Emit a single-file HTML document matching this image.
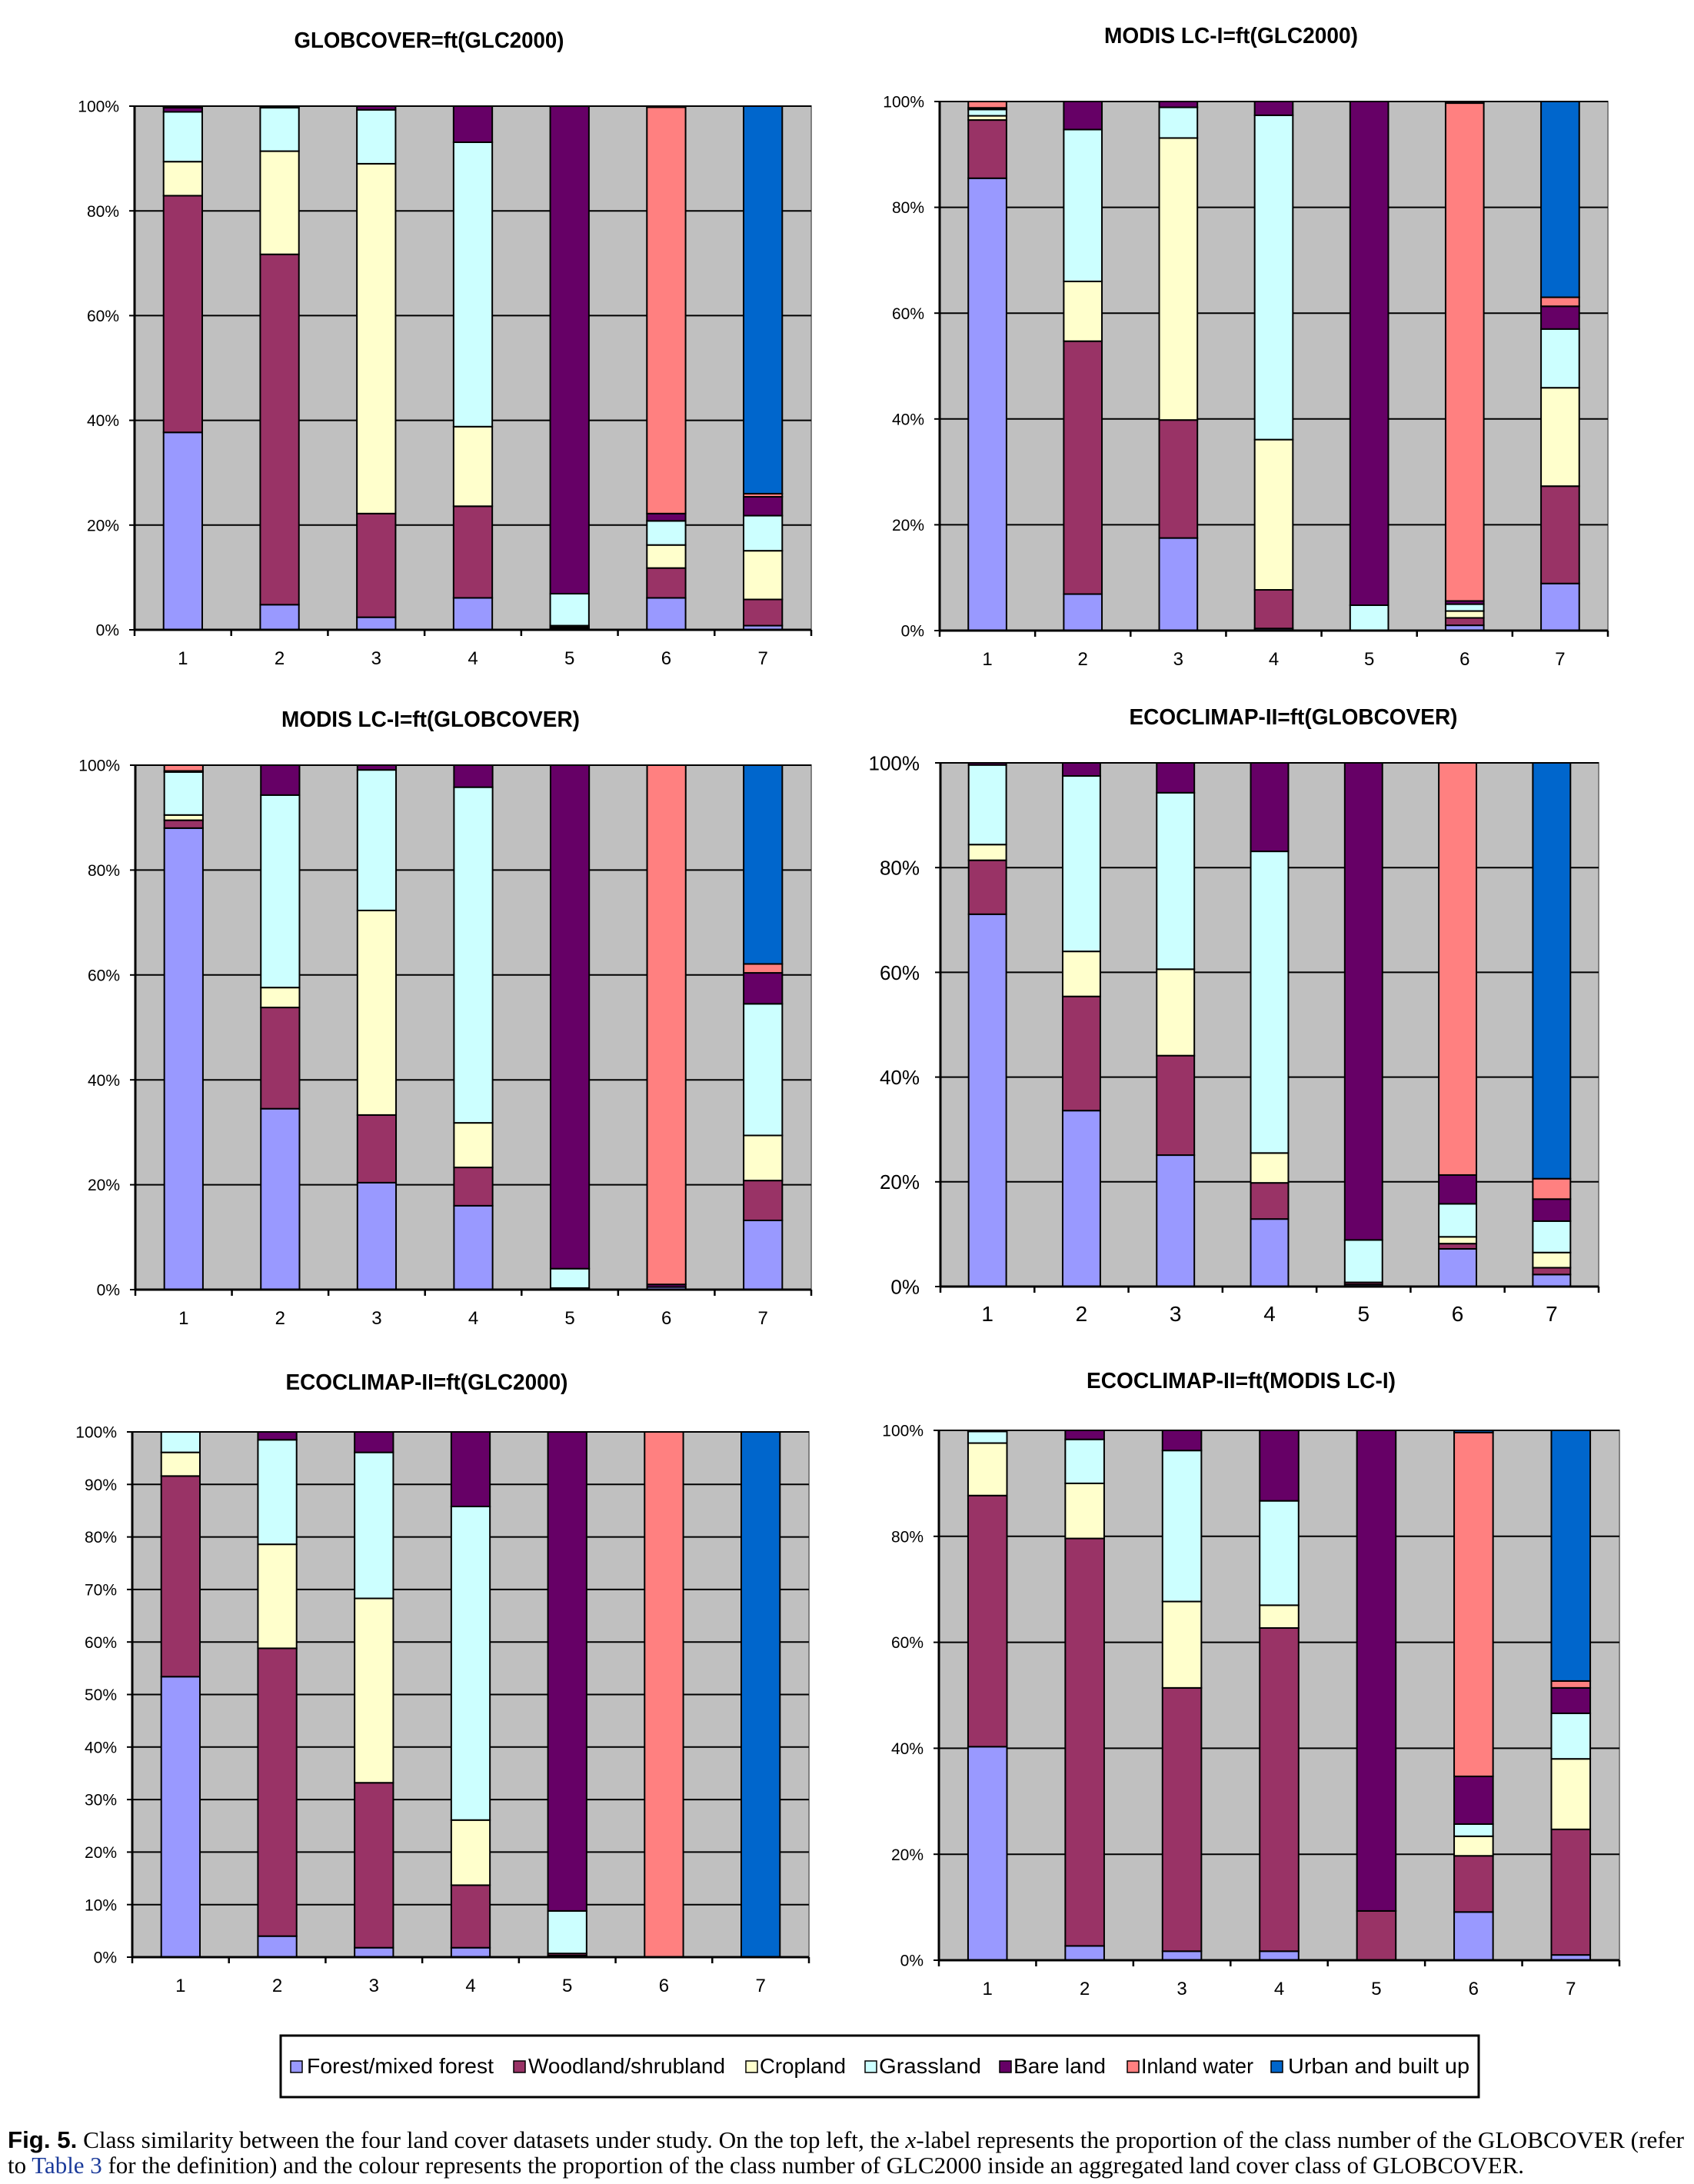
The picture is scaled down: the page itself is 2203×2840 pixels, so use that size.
<!DOCTYPE html>
<html><head><meta charset="utf-8"><title>Fig. 5</title>
<style>
html,body{margin:0;padding:0;background:#fff;}
svg{display:block;}
</style></head>
<body>
<svg id="fig" width="2203" height="2840" viewBox="0 0 2203 2840" xmlns="http://www.w3.org/2000/svg" font-family="Liberation Sans, Arial, sans-serif">
<rect x="0" y="0" width="2203" height="2840" fill="#ffffff"/>
<g id="charts"></g>
<g id="legend">
  <rect x="365" y="2647" width="1558" height="80" fill="#fff" stroke="#000" stroke-width="3"/>
  <g><rect x="378" y="2680" width="15" height="15" fill="#9999FF" stroke="#000" stroke-width="1.5"/><text x="399" y="2696" font-size="28" textLength="243" lengthAdjust="spacingAndGlyphs">Forest/mixed forest</text></g>
  <g><rect x="668" y="2680" width="15" height="15" fill="#993366" stroke="#000" stroke-width="1.5"/><text x="687" y="2696" font-size="28" textLength="256" lengthAdjust="spacingAndGlyphs">Woodland/shrubland</text></g>
  <g><rect x="970" y="2680" width="15" height="15" fill="#FFFFCC" stroke="#000" stroke-width="1.5"/><text x="988" y="2696" font-size="28" textLength="112" lengthAdjust="spacingAndGlyphs">Cropland</text></g>
  <g><rect x="1125" y="2680" width="15" height="15" fill="#CCFFFF" stroke="#000" stroke-width="1.5"/><text x="1143" y="2696" font-size="28" textLength="133" lengthAdjust="spacingAndGlyphs">Grassland</text></g>
  <g><rect x="1300" y="2680" width="15" height="15" fill="#660066" stroke="#000" stroke-width="1.5"/><text x="1318" y="2696" font-size="28" textLength="120" lengthAdjust="spacingAndGlyphs">Bare land</text></g>
  <g><rect x="1466" y="2680" width="15" height="15" fill="#FF8080" stroke="#000" stroke-width="1.5"/><text x="1484" y="2696" font-size="28" textLength="146" lengthAdjust="spacingAndGlyphs">Inland water</text></g>
  <g><rect x="1653" y="2680" width="15" height="15" fill="#0066CC" stroke="#000" stroke-width="1.5"/><text x="1675" y="2696" font-size="28" textLength="236" lengthAdjust="spacingAndGlyphs">Urban and built up</text></g>
</g>
<g id="caption" font-family="Liberation Serif, 'DejaVu Serif', serif" font-size="31" fill="#000">
  <text x="10" y="2793" textLength="2180" lengthAdjust="spacingAndGlyphs"><tspan font-weight="bold" font-family="Liberation Sans, sans-serif">Fig. 5.</tspan>  Class similarity between the four land cover datasets under study. On the top left, the <tspan font-style="italic">x</tspan>-label represents the proportion of the class number of the GLOBCOVER (refer</text>
  <text x="10" y="2826" textLength="1972" lengthAdjust="spacingAndGlyphs">to <tspan fill="#1a3a9a">Table 3</tspan> for the definition) and the colour represents the proportion of the class number of GLC2000 inside an aggregated land cover class of GLOBCOVER.</text>
</g>
</svg>
<script>
// ---- data ----
const categories = ["1","2","3","4","5","6","7"];
const classNames = ["forest","woodland","cropland","grassland","bare-land","inland-water","urban"];
const ticks20 = ["0%","20%","40%","60%","80%","100%"];
const ticks10 = ["0%","10%","20%","30%","40%","50%","60%","70%","80%","90%","100%"];
// each row: one bar (category), values bottom-up: forest, woodland, cropland, grassland, bare, inland water, urban
const globcoverGlc = [
  [37.7,45.2,6.5,9.5,0.8,0.3,0],
  [4.8,66.9,19.7,8.3,0.3,0,0],
  [2.4,19.8,66.8,10.3,0.7,0,0],
  [6.1,17.5,15.2,54.3,6.9,0,0],
  [0.2,0.3,0.3,6.1,93.1,0,0],
  [6.1,5.7,4.4,4.6,1.4,77.6,0.2],
  [0.8,5.0,9.3,6.7,3.6,0.6,74.0]
];
const modisGlc = [
  [85.5,11.0,0.8,1.2,0.3,1.2,0],
  [6.9,47.8,11.3,28.7,5.3,0,0],
  [17.5,22.3,53.3,5.8,1.1,0,0],
  [0.4,7.3,28.4,61.3,2.6,0,0],
  [0,0,0,4.8,95.2,0,0],
  [1.0,1.4,1.3,1.3,0.6,94.1,0.3],
  [8.9,18.4,18.6,11.1,4.3,1.7,37.0]
];
const modisGlobcover = [
  [88.0,1.5,1.0,8.2,0.2,1.1,0],
  [34.5,19.3,3.8,36.7,5.7,0,0],
  [20.4,12.9,39.0,26.8,0.9,0,0],
  [16.0,7.3,8.5,64.0,4.2,0,0],
  [0.3,0,0,3.7,96.0,0,0],
  [0.5,0,0,0,0.5,99.0,0],
  [13.2,7.6,8.6,25.1,5.9,1.7,37.9]
];
const ecoGlobcover = [
  [71.1,10.3,3.0,15.2,0.4,0,0],
  [33.6,21.8,8.6,33.5,2.5,0,0],
  [25.1,19.0,16.5,33.7,5.7,0,0],
  [12.9,6.9,5.7,57.6,16.9,0,0],
  [0.4,0.4,0,8.1,91.1,0,0],
  [7.2,1.0,1.3,6.3,5.5,78.7,0],
  [2.3,1.3,2.9,6.0,4.2,3.9,79.4]
];
const ecoGlc = [
  [53.4,38.2,4.5,3.9,0,0,0],
  [4.0,54.8,19.8,19.9,1.5,0,0],
  [1.8,31.4,35.1,27.8,3.9,0,0],
  [1.8,11.9,12.4,59.7,14.2,0,0],
  [0.3,0.4,0,8.1,91.2,0,0],
  [0,0,0,0,0,100,0],
  [0,0,0,0,0,0,100]
];
const ecoModis = [
  [40.3,47.4,9.9,2.2,0.2,0,0],
  [2.7,76.9,10.4,8.3,1.7,0,0],
  [1.7,49.7,16.3,28.5,3.8,0,0],
  [1.7,61.0,4.3,19.7,13.3,0,0],
  [0,9.3,0,0,90.7,0,0],
  [9.1,10.6,3.7,2.3,9.0,64.9,0.4],
  [1.0,23.7,13.3,8.6,4.8,1.3,47.3]
];
const colors = ["#9999FF","#993366","#FFFFCC","#CCFFFF","#660066","#FF8080","#0066CC"];

// ---- layout ----
const charts = [
  {name:"globcover-glc2000", title:"GLOBCOVER=ft(GLC2000)", tw:351, tx:558, ty:62, x0:175, x1:1055, y0:138, y1:819, data:globcoverGlc, ticks:ticks20, fs:21, xfs:24},
  {name:"modis-glc2000", title:"MODIS LC-I=ft(GLC2000)", tw:330, tx:1601, ty:56, x0:1222, x1:2091, y0:132, y1:820, data:modisGlc, ticks:ticks20, fs:21, xfs:24},
  {name:"modis-globcover", title:"MODIS LC-I=ft(GLOBCOVER)", tw:388, tx:560, ty:945, x0:176, x1:1055, y0:995, y1:1677, data:modisGlobcover, ticks:ticks20, fs:21, xfs:24},
  {name:"ecoclimap-globcover", title:"ECOCLIMAP-II=ft(GLOBCOVER)", tw:427, tx:1682, ty:942, x0:1223, x1:2079, y0:992, y1:1673, data:ecoGlobcover, ticks:ticks20, fs:26, xfs:28},
  {name:"ecoclimap-glc2000", title:"ECOCLIMAP-II=ft(GLC2000)", tw:367, tx:555, ty:1807, x0:172, x1:1052, y0:1862, y1:2545, data:ecoGlc, ticks:ticks10, fs:21, xfs:24},
  {name:"ecoclimap-modis", title:"ECOCLIMAP-II=ft(MODIS LC-I)", tw:402, tx:1614, ty:1805, x0:1221, x1:2106, y0:1860, y1:2549, data:ecoModis, ticks:ticks20, fs:21, xfs:24}
];
const NS = "http://www.w3.org/2000/svg";
function mk(tag, attrs, parent){
  const e = document.createElementNS(NS, tag);
  for (const k in attrs) e.setAttribute(k, attrs[k]);
  parent.appendChild(e);
  return e;
}
const root = document.getElementById("charts");
charts.forEach(c => {
  const g = mk("g", {}, root);
  
  
  const yScale = v => c.y1 - (v/100)*(c.y1 - c.y0);
  const band = (c.x1 - c.x0)/categories.length;
  const xCenter = i => c.x0 + band*(i+0.5);
  const bw = band*0.4;
  const t = mk("text", {x:c.tx, y:c.ty, "font-size":29, "font-weight":"bold", "text-anchor":"middle", textLength:c.tw, lengthAdjust:"spacingAndGlyphs"}, g);
  t.textContent = c.title;
  
  
  const bg = mk("rect", {x:c.x0, y:c.y0, width:c.x1-c.x0, height:c.y1-c.y0, fill:"#C0C0C0", stroke:"#808080", "stroke-width":2}, g);
  
  
  const n = c.ticks.length - 1;
  c.ticks.forEach((lab, k) => {
    const v = 100*k/n;
    const y = yScale(v);
    if (k > 0) {
      const gl = mk("line", {x1:c.x0, x2:c.x1, y1:y, y2:y, stroke:"#000", "stroke-width":2}, g);
      
      
    }
    const tk = mk("line", {x1:c.x0-7, x2:c.x0, y1:y, y2:y, stroke:"#000", "stroke-width":2}, g);
    
    
    const tl = mk("text", {x:c.x0-(c.fs>22?27:20), y:y+c.fs*0.36, "font-size":c.fs, "text-anchor":"end"}, g);
    tl.textContent = lab;
    
    
  });
  c.data.forEach((vals, i) => {
    let acc = 0;
    vals.forEach((v, s) => {
      if (v <= 0) return;
      const yTop = yScale(acc + v), yBot = yScale(acc);
      acc += v;
      const r = mk("rect", {x:xCenter(i)-bw/2, y:yTop, width:bw, height:yBot-yTop, fill:colors[s], stroke:"#000", "stroke-width":2}, g);
      
      
    });
  });
  const ax = mk("line", {x1:c.x0, x2:c.x1, y1:c.y1, y2:c.y1, stroke:"#000", "stroke-width":3}, g);
  
  
  const ay = mk("line", {x1:c.x0, x2:c.x0, y1:c.y0, y2:c.y1, stroke:"#000", "stroke-width":3}, g);
  
  
  for (let i = 0; i <= categories.length; i++) {
    const x = c.x0 + band*i;
    const xt = mk("line", {x1:x, x2:x, y1:c.y1, y2:c.y1+8, stroke:"#000", "stroke-width":2.5}, g);
    
    
  }
  categories.forEach((lab, i) => {
    const xl = mk("text", {x:xCenter(i), y:c.y1+45, "font-size":c.xfs, "text-anchor":"middle"}, g);
    xl.textContent = lab;
    
    
  });
});
</script>
</body></html>
